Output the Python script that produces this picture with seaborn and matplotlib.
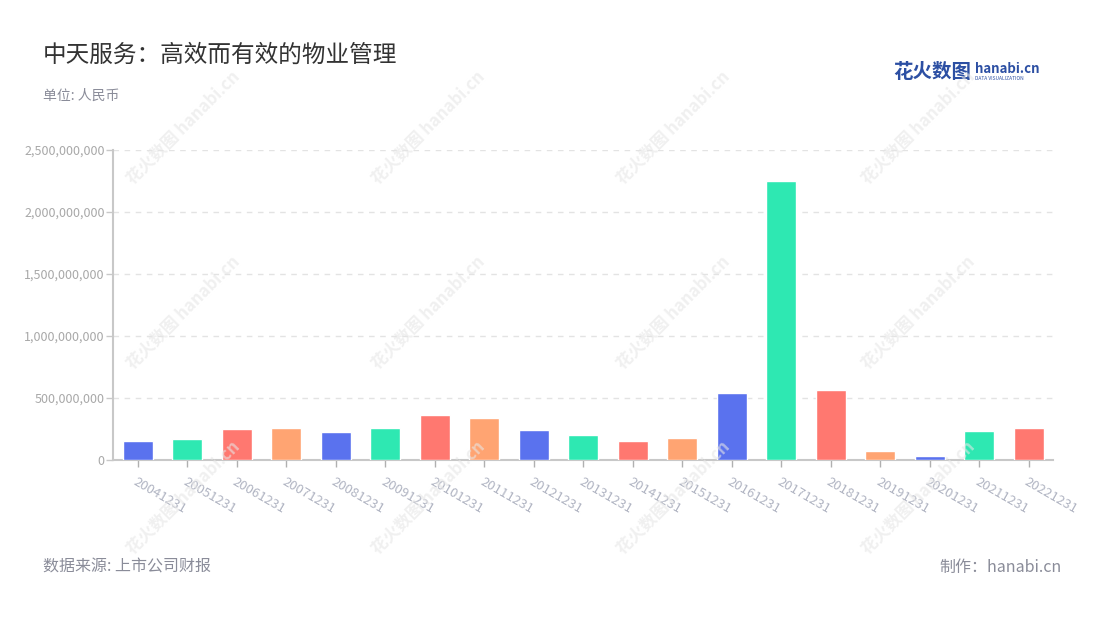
import matplotlib
matplotlib.use("Agg")
import matplotlib.pyplot as plt
import seaborn as sns
import pandas as pd
from matplotlib.ticker import FuncFormatter

# Data
periods = ["20041231", "20051231", "20061231", "20071231", "20081231",
           "20091231", "20101231", "20111231", "20121231", "20131231",
           "20141231", "20151231", "20161231", "20171231", "20181231",
           "20191231", "20201231", "20211231", "20221231"]
values = [156e6, 167e6, 247e6, 256e6, 223e6,
          256e6, 360e6, 339e6, 240e6, 199e6,
          151e6, 175e6, 537e6, 2252e6, 562e6,
          70e6, 30e6, 237e6, 256e6]
yticks = [0, 500e6, 1000e6, 1500e6, 2000e6, 2500e6]

title = "中天服务：高效而有效的物业管理"
unit = "单位: 人民币"
source = "数据来源: 上市公司财报"
maker = "制作：hanabi.cn"

cycle = ["#5a72ee", "#2ee8b2", "#ff7870", "#ffa472"]
palette = [cycle[i % 4] for i in range(len(periods))]

df = pd.DataFrame({"period": periods, "value": values})

sns.set_theme(style="white")
plt.rcParams['font.family'] = ['Noto Sans CJK SC', 'DejaVu Sans']

fig = plt.figure(figsize=(11, 6.2), dpi=100)
ax = fig.add_axes([0.1027, 0.258, 0.855, 0.5])

sns.barplot(data=df, x="period", y="value", hue="period", palette=palette,
            legend=False, width=0.6, saturation=1, ax=ax, zorder=3)

ax.set_xlim(-0.5, len(periods) - 0.5)
ax.set_ylim(0, 2500e6)
ax.set_yticks(yticks)
ax.yaxis.set_major_formatter(FuncFormatter(lambda v, p: f"{int(v):,}"))
ax.grid(axis="y", color="#e3e3e3", linestyle=(0, (4, 4)), linewidth=1, zorder=0)
ax.set_xlabel("")
ax.set_ylabel("")

for s in ["top", "right"]:
    ax.spines[s].set_visible(False)
for s in ["left", "bottom"]:
    ax.spines[s].set_color("#c8c8c8")
    ax.spines[s].set_linewidth(1.5)

ax.tick_params(axis="y", length=5, width=1, color="#c8c8c8", labelsize=9,
               labelcolor="#a8a8a8", pad=1, left=True)
ax.tick_params(axis="x", length=5, width=1, color="#b0b0b0", labelsize=9.5,
               labelcolor="#b0b4c2", pad=6, bottom=True)
for lab in ax.get_xticklabels():
    lab.set_rotation(-30)
    lab.set_ha("left")
    lab.set_va("top")
    lab.set_rotation_mode("anchor")

# watermarks
for cx in [183, 428, 673, 918]:
    for cy in [128, 313, 498]:
        fig.text(cx / 1100, 1 - cy / 620, "花火数图 hanabi.cn", rotation=45,
                 ha="center", va="center", fontsize=12, fontweight="bold",
                 color="#e6e6e6", alpha=0.6, zorder=5)

fig.text(43 / 1100, 1 - 55 / 620, title, fontsize=17, color="#333333",
         ha="left", va="center")
fig.text(43 / 1100, 1 - 96 / 620, unit, fontsize=10, color="#8a8c99",
         ha="left", va="center")
fig.text(43 / 1100, 1 - 567 / 620, source, fontsize=11.5, color="#8a8c99",
         ha="left", va="center")
fig.text(1062 / 1100, 1 - 567 / 620, maker, fontsize=11.5, color="#8a8c99",
         ha="right", va="center")

# logo
fig.text(893 / 1100, 1 - 72 / 620, "花火数图", fontsize=14, fontweight="bold",
         color="#2c4fa3", ha="left", va="center")
fig.text(975 / 1100, 1 - 69 / 620, "hanabi.cn", fontsize=9.5, fontweight="bold",
         color="#2c4fa3", ha="left", va="center")
fig.text(975 / 1100, 1 - 79 / 620, "DATA VISUALIZATION", fontsize=3.5,
         color="#2c4fa3", ha="left", va="center")

fig.savefig("out.png", dpi=100)
